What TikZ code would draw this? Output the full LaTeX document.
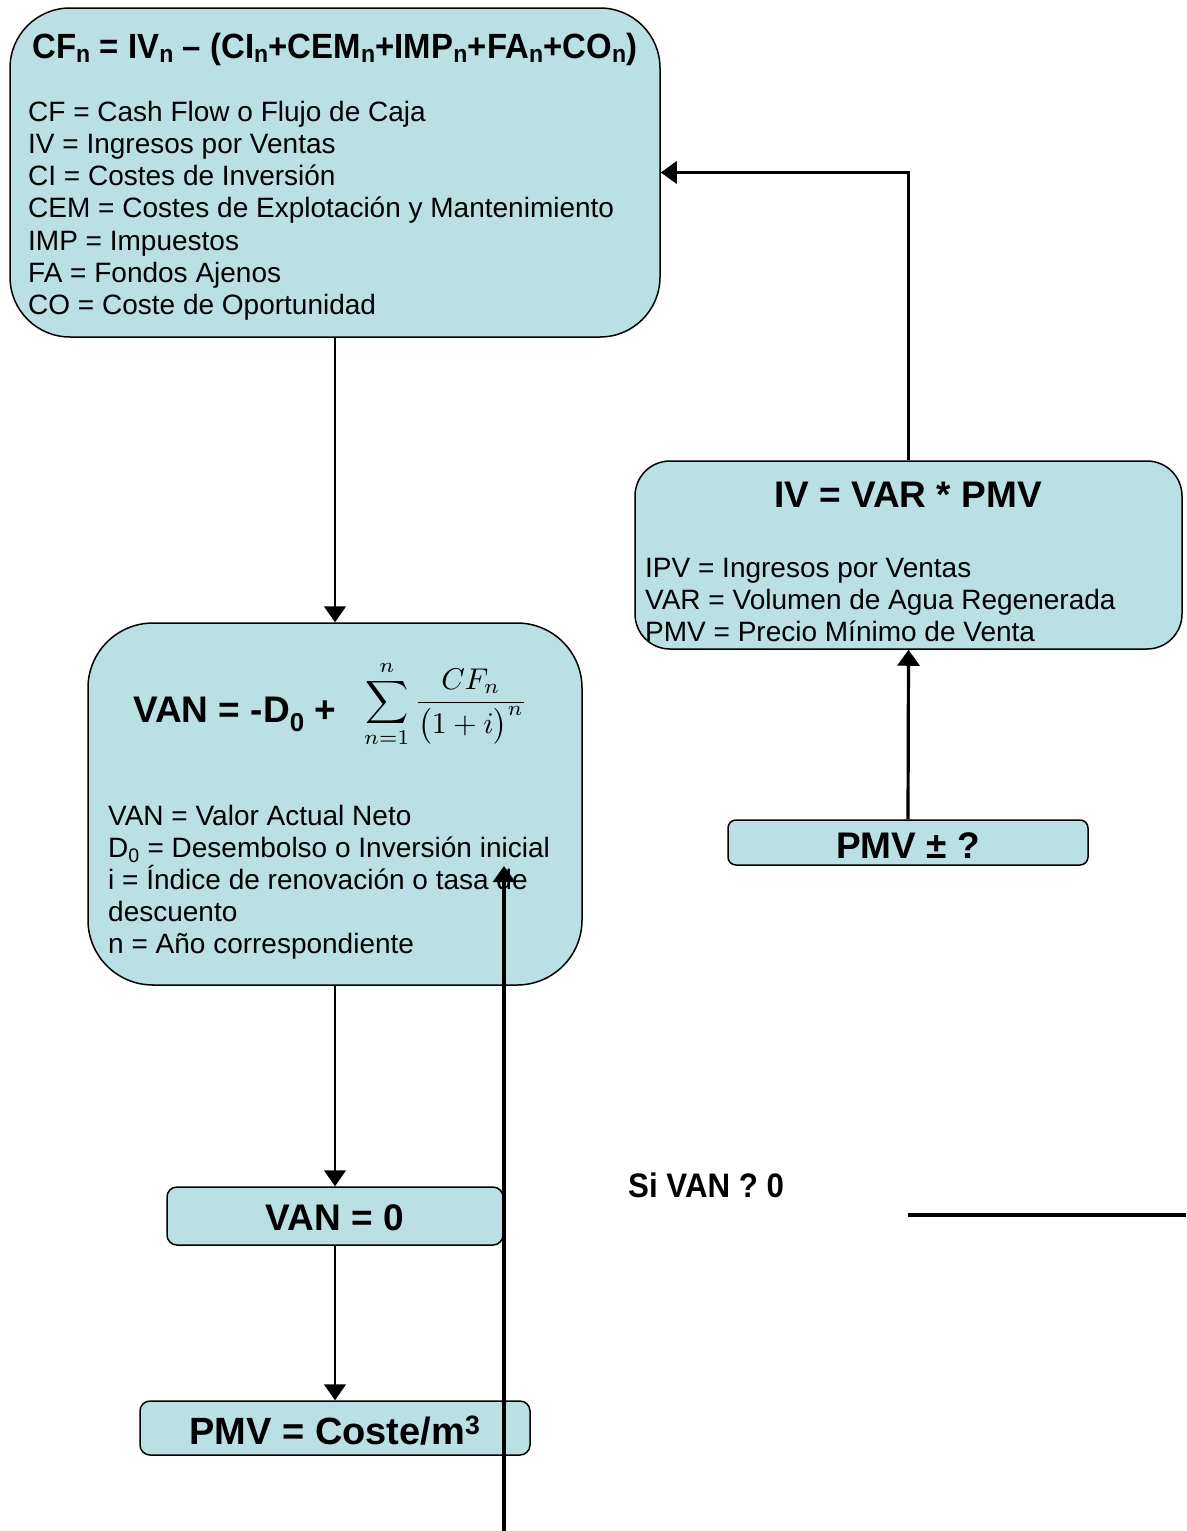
\documentclass[tikz,border=0pt]{standalone}
\usepackage[no-math]{fontspec}
\setmainfont{Liberation Sans}
\usepackage{amsmath}
\usetikzlibrary{arrows.meta}
\definecolor{boxfill}{RGB}{187,224,227}
\newcommand{\mysub}[1]{\textsubscript{#1}}
\begin{document}
\begin{tikzpicture}[x=1pt,y=-1pt,
  box/.style={draw=black, line width=1.5pt, fill=boxfill, inner sep=0pt},
  body/.style={anchor=base west, inner sep=0pt, font=\fontsize{28}{32}\selectfont},
  btitle/.style={anchor=base, inner sep=0pt, font=\fontsize{37}{40}\selectfont\bfseries},
  thinarrow/.style={line width=1.5pt, -{Triangle[width=22pt,length=16pt]}},
  thickarrow/.style={line width=3.2pt, -{Triangle[width=22pt,length=16pt]}},
]
\useasboundingbox (0,0) rectangle (1186,1531);
\fill[white] (0,0) rectangle (1186,1531);

% boxes
\node[box, rounded corners=60pt, minimum width=650pt, minimum height=329pt] (b1) at (335,172.5) {};
\node[box, rounded corners=65pt, minimum width=494pt, minimum height=362pt] (b2) at (335,804) {};
\node[box, rounded corners=10pt, minimum width=336pt, minimum height=58pt] (b3) at (335,1216) {};
\node[box, rounded corners=10pt, minimum width=390pt, minimum height=54pt] (b4) at (335,1428) {};
\node[box, rounded corners=35pt, minimum width=547pt, minimum height=188pt] (b5) at (908.5,555) {};
\node[box, rounded corners=8pt, minimum width=360pt, minimum height=45pt] (b6) at (908,842.5) {};

% box 1 text
\node[btitle, font=\fontsize{35}{40}\selectfont\bfseries] (t1) at (335,58)
  {\scalebox{0.94}[1]{CF\mysub{n} = IV\mysub{n} -- (CI\mysub{n}+CEM\mysub{n}+IMP\mysub{n}+FA\mysub{n}+CO\mysub{n})}};
\node[body] (l11) at (28,121) {CF = Cash Flow o Flujo de Caja};
\node[body] (l12) at (28,153.3) {IV = Ingresos por Ventas};
\node[body] (l13) at (28,185.6) {CI = Costes de Inversión};
\node[body] (l14) at (28,217.9) {CEM = Costes de Explotación y Mantenimiento};
\node[body] (l15) at (28,250.2) {IMP = Impuestos};
\node[body] (l16) at (28,282.5) {FA = Fondos Ajenos};
\node[body] (l17) at (28,314.8) {CO = Coste de Oportunidad};

% box 2 text
\node[anchor=base west, inner sep=0pt, font=\fontsize{37}{40}\selectfont\bfseries] (t2) at (133,722)
  {VAN = -D\mysub{0} +};
\node[anchor=west, inner sep=0pt] (m2) at (364,704)
  {\scalebox{3.0}{$\displaystyle\sum_{n=1}^{n}\frac{CF_n}{\bigl(1+i\bigr)^n}$}};
\node[body] (l21) at (108,825) {VAN = Valor Actual Neto};
\node[body] (l22) at (108,857) {D\mysub{0} = Desembolso o Inversión inicial};
\node[body] (l23) at (108,889) {i = Índice de renovación o tasa de};
\node[body] (l24) at (108,921) {descuento};
\node[body] (l25) at (108,953) {n = Año correspondiente};

% small boxes text
\node[btitle] (t3) at (335,1230) {VAN = 0};
\node[btitle, font=\fontsize{38}{40}\selectfont\bfseries] (t4) at (335,1444) {PMV = Coste/m\textsuperscript{3}};
\node[btitle] (t6) at (908,858) {PMV ± ?};

% box 5 text
\node[btitle, font=\fontsize{37}{40}\selectfont\bfseries] (t5) at (908,507) {IV = VAR * PMV};
\node[body] (l51) at (645,577) {IPV = Ingresos por Ventas};
\node[body] (l52) at (645,609) {VAR = Volumen de Agua Regenerada};
\node[body] (l53) at (645,641) {PMV = Precio Mínimo de Venta};

% free label
\node[anchor=base west, inner sep=0pt, font=\fontsize{34}{40}\selectfont\bfseries] (si) at (628,1197)
  {\scalebox{0.92}[1]{Si VAN ? 0}};

% connectors
\draw[thinarrow] (b1.south) -- (b2.north);
\draw[thinarrow] (b2.south) -- (b3.north);
\draw[thinarrow] (b3.south) -- (b4.north);
\draw[thickarrow] (b5.north) |- (b1.east);
\draw[thickarrow] (b6.north) -- (b5.south);

\coordinate (l1) at (908,1215);
\coordinate (l2) at (1186,1215);
\draw[line width=3.2pt] (l1) -- (l2);

\coordinate (lb) at (504,1531);
\coordinate (lt) at (504,866);
\draw[thickarrow] (lb) -- (lt);
\end{tikzpicture}
\end{document}
